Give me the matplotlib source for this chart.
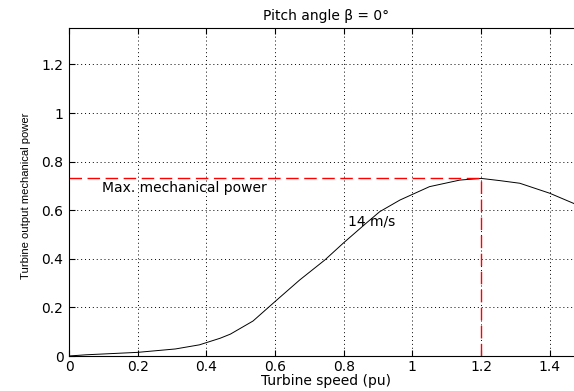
import matplotlib
matplotlib.use("Agg")
import matplotlib.pyplot as plt
import numpy as np

# Data
speed = [0.0, 0.05, 0.2, 0.31, 0.38, 0.44, 0.47, 0.536, 0.60, 0.672, 0.745, 0.80,
         0.865, 0.905, 0.964, 1.0, 1.05, 1.138, 1.2, 1.254, 1.313, 1.4, 1.47, 1.5]
power = [0.0, 0.005, 0.015, 0.029, 0.046, 0.073, 0.09, 0.144, 0.224, 0.313, 0.395, 0.466,
         0.546, 0.594, 0.642, 0.665, 0.697, 0.724, 0.731, 0.722, 0.711, 0.670, 0.628, 0.605]
max_speed = 1.2
max_power = 0.731
xticks = [0, 0.2, 0.4, 0.6, 0.8, 1.0, 1.2, 1.4]
xticklabels = ["0", "0.2", "0.4", "0.6", "0.8", "1", "1.2", "1.4"]
yticks = [0, 0.2, 0.4, 0.6, 0.8, 1.0, 1.2]
yticklabels = ["0", "0.2", "0.4", "0.6", "0.8", "1", "1.2"]

plt.rcParams['font.family'] = ['DejaVu Sans']
FS = 10

W, H = 574, 391
fig = plt.figure(figsize=(W / 100, H / 100), dpi=100)
ax = fig.add_axes([69 / W, (H - 356) / H, (584 - 69) / W, (356 - 28) / H])

ax.plot(speed, power, color='black', lw=0.7)
ax.plot([0, max_speed], [max_power, max_power], color='red', lw=1.0, dashes=(9, 4))
ax.plot([max_speed, max_speed], [0, max_power], color='red', lw=1.0, dashes=(9, 4))

ax.set_xlim(0, 1.5)
ax.set_ylim(0, 1.35)
ax.set_xticks(xticks)
ax.set_xticklabels(xticklabels)
ax.set_yticks(yticks)
ax.set_yticklabels(yticklabels)
ax.tick_params(direction='in', top=True, right=True, labelsize=FS, length=4, width=0.8)
ax.tick_params(axis='y', pad=4)
ax.tick_params(axis='x', pad=3)
ax.grid(True, color='black', linestyle=(0, (1, 3)), lw=0.7)
for s in ax.spines.values():
    s.set_linewidth(0.8)

ax.text(0.095, 0.69, "Max. mechanical power", fontsize=FS, va='center', ha='left')
ax.text(0.813, 0.553, "14 m/s", fontsize=FS, va='center', ha='left')

ax.set_title("Pitch angle \u03b2 = 0\u00b0", fontsize=FS, pad=6)
ax.set_xlabel("Turbine speed (pu)", fontsize=FS, labelpad=0)
ax.set_ylabel("Turbine output mechanical power", family='Liberation Sans',
              fontsize=8.1)
ax.yaxis.set_label_coords(-38 / (584 - 69), (356 - 196) / (356 - 28))

fig.savefig("out.png", dpi=100)
